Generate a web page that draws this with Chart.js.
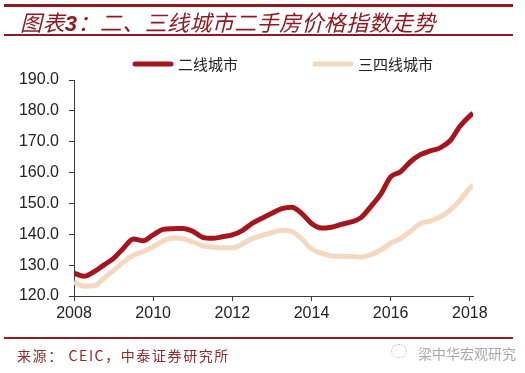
<!DOCTYPE html>
<html>
<head>
<meta charset="utf-8">
<script src="https://cdn.jsdelivr.net/npm/chart.js@4.4.1/dist/chart.umd.min.js"></script>
<style>
  html, body { margin: 0; padding: 0; background: #fff; }
  #wrap { position: relative; width: 525px; height: 373px; overflow: hidden; }
  #c { position: absolute; left: 0; top: 0; }
  .rule { position: absolute; left: 4px; width: 509px; background: #8e1b24; }
  #title { position: absolute; left: 20px; top: 5px; font-family: "Noto Sans CJK SC", sans-serif; font-size: 22px;
           font-style: italic; font-weight: 400; color: #8e1b24; letter-spacing: 0.4px; white-space: nowrap; }
  #title b { font-family: "Liberation Sans", sans-serif; font-weight: 700; }
  #src { position: absolute; left: 17px; top: 345px; font-family: "Noto Sans CJK SC", sans-serif; font-size: 14px;
         color: #8e2a2a; letter-spacing: 1.6px; white-space: nowrap; }
  #wm { position: absolute; left: 418px; top: 343px; font-family: "Noto Sans CJK SC", sans-serif; font-size: 14px;
        color: #a8a8a8; white-space: nowrap; }
  #wmicon { position: absolute; left: 391px; top: 344px; width: 14px; height: 12px; border: 1px dotted #b5b5b5; border-radius: 50%; }
</style>
</head>
<body>
<div id="wrap">
  <canvas id="c" width="525" height="373"></canvas>
  <div class="rule" style="top:4px;height:3px"></div>
  <div id="title">图表<b>3</b>：二、三线城市二手房价格指数走势</div>
  <div class="rule" style="top:34px;height:2px"></div>
  <div class="rule" style="top:337px;height:2px"></div>
  <div id="src">来源： CEIC，中泰证券研究所</div>
  <div id="wmicon"></div>
  <div id="wm">梁中华宏观研究</div>
</div>
<script>
// 季度时间点（年份小数）
const periods = [2008.00, 2008.25, 2008.50, 2008.75, 2009.00, 2009.25, 2009.50, 2009.75,
  2010.00, 2010.25, 2010.50, 2010.75, 2011.00, 2011.25, 2011.50, 2011.75,
  2012.00, 2012.25, 2012.50, 2012.75, 2013.00, 2013.25, 2013.50, 2013.75,
  2014.00, 2014.25, 2014.50, 2014.75, 2015.00, 2015.25, 2015.50, 2015.75,
  2016.00, 2016.25, 2016.50, 2016.75, 2017.00, 2017.25, 2017.50, 2017.75,
  2018.00, 2018.08];

const tier2 = [127.4, 126.4, 127.8, 130.0, 132.2, 135.5, 138.5, 137.9,
  139.8, 141.6, 141.8, 141.9, 141.0, 139.0, 138.7, 139.2,
  139.8, 141.2, 143.5, 145.2, 146.8, 148.3, 148.8, 146.8,
  143.5, 142.0, 142.3, 143.2, 144.0, 145.4, 149.0, 153.0,
  158.6, 160.3, 163.5, 165.8, 167.0, 168.0, 170.3, 175.0,
  178.4, 179.2];

const tier34 = [124.5, 123.2, 123.3, 125.7, 128.3, 131.0, 133.2, 134.4,
  136.0, 137.8, 138.8, 138.6, 137.5, 136.3, 135.9, 135.6,
  135.6, 136.8, 138.6, 139.6, 140.5, 141.3, 140.9, 138.5,
  135.3, 133.9, 133.0, 132.9, 132.8, 132.6, 133.4, 134.9,
  137.1, 138.6, 141.0, 143.5, 144.3, 145.6, 147.8, 151.0,
  155.0, 156.0];

const seriesNames = ['二线城市', '三四线城市'];
const yearTicks = [2008, 2010, 2012, 2014, 2016, 2018];

const toPoints = vals => vals.map((v, i) => ({ x: periods[i], y: v }));

// 图例（固定位置）
const legendPlugin = {
  id: 'fixedLegend',
  afterDraw(chart) {
    const ctx = chart.ctx;
    const spots = [133, 313];
    ctx.save();
    ctx.font = '15px "Noto Sans CJK SC"';
    ctx.textBaseline = 'middle';
    chart.data.datasets.forEach((ds, i) => {
      const x = spots[i];
      ctx.strokeStyle = ds.borderColor;
      ctx.lineWidth = 5;
      ctx.lineCap = 'round';
      ctx.beginPath();
      ctx.moveTo(x + 2, 64);
      ctx.lineTo(x + 38, 64);
      ctx.stroke();
      ctx.fillStyle = '#222';
      ctx.fillText(ds.label, x + 45, 64);
    });
    ctx.restore();
  }
};

const axisColor = '#3a3a3a';

new Chart(document.getElementById('c'), {
  type: 'line',
  data: {
    datasets: [
      { label: seriesNames[0], data: toPoints(tier2), borderColor: '#a5151e', backgroundColor: '#a5151e',
        borderWidth: 5, pointRadius: 0, cubicInterpolationMode: 'monotone' },
      { label: seriesNames[1], data: toPoints(tier34), borderColor: '#f5d8c0', backgroundColor: '#f5d8c0',
        borderWidth: 5, pointRadius: 0, cubicInterpolationMode: 'monotone' }
    ]
  },
  options: {
    responsive: false,
    animation: false,
    layout: { padding: { top: 80, right: 52, left: 0, bottom: 0 } },
    plugins: { legend: { display: false }, tooltip: { enabled: false } },
    scales: {
      x: {
        type: 'linear', min: 2008, max: 2018.08,
        afterFit: s => { s.height = 77; },
        afterBuildTicks: s => { s.ticks = yearTicks.map(v => ({ value: v })); },
        grid: { drawOnChartArea: false, tickLength: 5, color: axisColor },
        border: { color: axisColor, width: 1 },
        ticks: { color: '#222', font: { family: 'Liberation Sans', size: 16 }, padding: 3, maxRotation: 0,
                 callback: v => String(v) }
      },
      y: {
        min: 120, max: 190,
        afterFit: s => { s.width = 74; },
        grid: { drawOnChartArea: false, tickLength: 5, color: axisColor },
        border: { color: axisColor, width: 1 },
        ticks: { stepSize: 10, color: '#222', font: { family: 'Liberation Sans', size: 16 }, padding: 10,
                 callback: v => v.toFixed(1) }
      }
    }
  },
  plugins: [legendPlugin]
});
</script>
</body>
</html>
